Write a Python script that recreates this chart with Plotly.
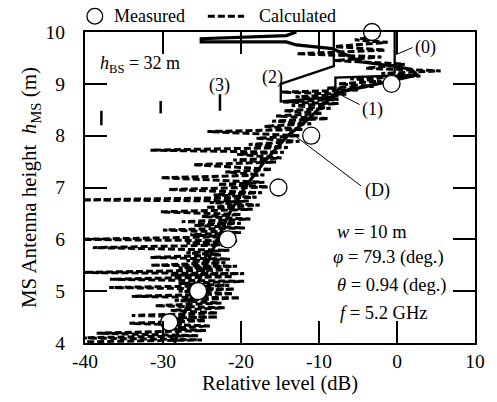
import plotly.graph_objects as go

# ---------------- data ----------------
# Measured points (relative level dB, MS height m)
meas_level = [-3.2, -0.7, -11.0, -15.2, -21.7, -25.5, -29.2]
meas_height = [10.0, 9.0, 8.0, 7.0, 6.0, 5.0, 4.4]

# Calculated (dashed) - rapidly oscillating, read as alternating nulls/peaks
calc_height = [4.02, 4.06, 4.10, 4.14, 4.19, 4.24, 4.28, 4.33, 4.38, 4.43, 4.48, 4.50,
               4.53, 4.58, 4.63, 4.68, 4.72, 4.77, 4.82, 4.87, 4.90, 4.95, 5.00, 5.04,
               5.07, 5.11, 5.15, 5.19, 5.23, 5.28, 5.31, 5.34, 5.36, 5.41, 5.45, 5.48,
               5.50, 5.55, 5.59, 5.62, 5.65, 5.70, 5.74, 5.79, 5.84, 5.89, 5.93, 5.97,
               6.00, 6.05, 6.09, 6.13, 6.18, 6.22, 6.27, 6.31, 6.34, 6.39, 6.44, 6.48,
               6.53, 6.58, 6.62, 6.66, 6.71, 6.74, 6.76, 6.81, 6.86, 6.90, 6.96, 7.01,
               7.06, 7.10, 7.19, 7.24, 7.30, 7.35, 7.44, 7.49, 7.53, 7.57, 7.64, 7.68,
               7.72, 7.77, 7.83, 7.89, 7.95, 8.00, 8.08, 8.12, 8.18, 8.23, 8.28, 8.33,
               8.38, 8.43, 8.48, 8.53, 8.58, 8.62, 8.65, 8.70, 8.75, 8.80, 8.84, 8.88,
               8.92, 8.95, 9.00, 9.05, 9.10, 9.15, 9.20, 9.25, 9.30, 9.38, 9.45, 9.52,
               9.58, 9.65, 9.72, 9.80, 9.85, 9.90]
calc_level = [-41, -25, -41, -25.5, -38.5, -24.5, -30, -24, -34.3, -24.5, -29.5, -23,
              -34, -23, -29, -22.1, -31, -22.5, -28.5, -20.1, -34, -21, -28, -20.8,
              -36.9, -21.5, -28, -19.6, -36.8, -21, -29, -19.6, -41, -21.5, -28, -20.5,
              -31.6, -22, -27, -21.4, -31.6, -22.5, -27, -21.5, -39, -22, -27, -20.5,
              -41, -21.5, -26.5, -20, -30, -19.5, -26, -20, -27.6, -18.8, -25, -20,
              -30.3, -18.5, -24.5, -17.6, -24, -19, -41, -18, -23.5, -17.3, -29.3, -16.5,
              -23, -17, -30.3, -17, -22, -16, -26.1, -15.5, -21, -14.8, -20.5, -14.5,
              -31.6, -14, -19, -12.5, -18, -12.5, -24.3, -12, -17, -11, -16, -8.8,
              -15.5, -9.5, -14.5, -8.5, -13.5, -7.5, -14.6, -7.5, -13, -6.5, -14.8, -5,
              -9, -3, -7.5, -2, -6, 3, -2, 5.6, -4, 1, -8, -2,
              -12.9, -1.5, -8, -1.2, -5.4, -3.5]

# Curve (D) - thick solid
d_height = [4.0, 4.5, 5.0, 5.5, 6.0, 6.5, 7.0, 7.5, 8.0, 8.3, 8.6, 8.82, 9.0, 9.17,
            9.28, 9.34, 9.42, 9.68, 9.75, 9.81, 9.81, 9.87, 9.93, 10.0]
d_level = [-28.5, -27.5, -26.0, -24.5, -23.0, -21.5, -19.5, -17.0, -14.0, -11.5, -9.5,
           -7.9, -2.5, 2.6, 1.8, -0.3, -4.5, -8.3, -12.9, -14.2, -25.1, -25.1, -14.2, -12.9]

# Curves (0), (1), (2)
c0_height = [10.05, 9.2]
c0_level = [-0.3, -0.3]
c1_height = [9.17, 9.12, 8.82]
c1_level = [2.6, -7.9, -7.9]
c2_height = [10.05, 9.34, 9.0, 8.66, 8.76]
c2_level = [-8.1, -8.1, -14.9, -14.9, -7.5]
# Curve (3) visible fragments
c3_height = [8.2, 8.48, None, 8.43, 8.67, None, 8.48, 8.8]
c3_level = [-37.9, -37.9, None, -30.3, -30.3, None, -22.7, -22.7]

# Tick labels
x_ticks = [-40, -30, -20, -10, 0, 10]
x_ticklabels = ["-40", "-30", "-20", "-10", "0", "10"]
y_ticks = [4, 5, 6, 7, 8, 9, 10]
y_ticklabels = ["4", "5", "6", "7", "8", "9", "10"]

FONT = "Liberation Serif"

fig = go.Figure()
fig.add_trace(go.Scatter(x=calc_level, y=calc_height, mode="lines",
                         line=dict(color="black", width=3.0, dash="7px,3px"),
                         showlegend=False))
fig.add_trace(go.Scatter(x=d_level, y=d_height, mode="lines",
                         line=dict(color="black", width=3.2), showlegend=False))
for xs, ys in [(c0_level, c0_height), (c1_level, c1_height), (c2_level, c2_height)]:
    fig.add_trace(go.Scatter(x=xs, y=ys, mode="lines",
                             line=dict(color="black", width=2.3), showlegend=False))
fig.add_trace(go.Scatter(x=c3_level, y=c3_height, mode="lines", connectgaps=False,
                         line=dict(color="black", width=2.5), showlegend=False))
fig.add_trace(go.Scatter(x=meas_level, y=meas_height, mode="markers", cliponaxis=False,
                         marker=dict(symbol="circle", size=17, color="white",
                                     line=dict(color="black", width=1.3)),
                         showlegend=False))

ann = []
def txt(x, y, t, xa="center", size=18):
    ann.append(dict(x=x, y=y, xref="x", yref="y", text=t, showarrow=False,
                    xanchor=xa, yanchor="middle", font=dict(family=FONT, size=size, color="black")))

txt(-38.3, 9.37, "<i>h</i><sub>BS</sub> = 32 m", "left")
txt(-22.75, 8.97, "(3)")
txt(-15.9, 9.13, "(2)")
txt(3.7, 9.70, "(0)")
txt(-3.2, 8.50, "(1)")
txt(-2.5, 6.95, "(D)")
txt(-8.0, 6.15, "<i>w</i> = 10 m", "left", 18.5)
txt(-8.4, 5.64, "<i>φ</i> = 79.3 (deg.)", "left", 18.5)
txt(-8.0, 5.10, "<i>θ</i> = 0.94 (deg.)", "left", 18.5)
txt(-7.6, 4.57, "<i>f</i> = 5.2 GHz", "left", 18.5)

# legend (manual)
ann.append(dict(x=0.068, y=1.0506, xref="paper", yref="paper", text="Measured", showarrow=False,
                xanchor="left", yanchor="middle", font=dict(family=FONT, size=18, color="black")))
ann.append(dict(x=0.441, y=1.0506, xref="paper", yref="paper", text="Calculated", showarrow=False,
                xanchor="left", yanchor="middle", font=dict(family=FONT, size=18, color="black")))

shapes = [
    dict(type="circle", xref="paper", yref="paper", x0=0.0050, x1=0.0453, y0=1.0253, y1=1.0759,
         line=dict(color="black", width=1.3), fillcolor="white"),
    dict(type="line", xref="paper", yref="paper", x0=0.315, x1=0.408, y0=1.0506, y1=1.0506,
         line=dict(color="black", width=3.0, dash="7px,3px")),
    dict(type="line", xref="x", yref="y", x0=2.0, y0=9.70, x1=-0.2, y1=9.56,
         line=dict(color="black", width=1)),
    dict(type="line", xref="x", yref="y", x0=-4.8, y0=8.60, x1=-7.0, y1=8.77,
         line=dict(color="black", width=1)),
    dict(type="line", xref="x", yref="y", x0=-4.6, y0=7.03, x1=-13.8, y1=8.08,
         line=dict(color="black", width=1)),
]

axis_common = dict(showgrid=False, zeroline=False, showline=True, linecolor="black", linewidth=2,
                   mirror="ticks", ticks="inside", ticklen=22, tickwidth=2, tickcolor="black",
                   tickfont=dict(family=FONT, size=19.5, color="black"))

fig.update_layout(
    width=497, height=402,
    margin=dict(l=85, r=15, t=32, b=54),
    paper_bgcolor="white", plot_bgcolor="white",
    annotations=ann, shapes=shapes,
    xaxis=dict(range=[-40, 10], tickvals=x_ticks, ticktext=x_ticklabels,
               title=dict(text="Relative level (dB)", font=dict(family=FONT, size=20.5, color="black"), standoff=3),
               **axis_common),
    yaxis=dict(range=[4, 10], tickvals=y_ticks, ticktext=y_ticklabels, ticklabelstandoff=14,
               title=dict(text="MS Antenna height  <i>h</i><sub>MS</sub> (m)",
                          font=dict(family=FONT, size=21, color="black"), standoff=3),
               **axis_common),
)

fig.write_html("out.html")
